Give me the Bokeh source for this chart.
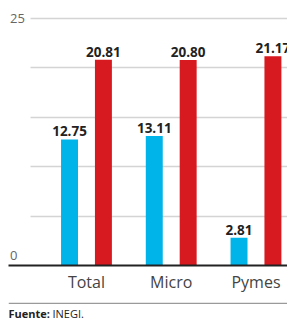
import numpy as np
from bokeh.plotting import figure
from bokeh.layouts import column
from bokeh.models import ColumnDataSource, Range1d, FixedTicker, Span
from bokeh.transform import dodge
from bokeh.core.properties import value
from bokeh.embed import file_html
from bokeh.resources import INLINE

categories = ["Total", "Micro", "Pymes"]
serie_azul = [12.75, 13.11, 2.81]
serie_roja = [20.81, 20.80, 21.17]
y_tick_values = [0, 25]
y_tick_labels = ["0", "25"]
grid_values = [5, 10, 15, 20, 25]
fuente_bold = "Fuente:"
fuente_text = "INEGI."

AZUL = "#00b3e8"
ROJA = "#d71920"
FONT = "Open Sans"

idx = np.arange(len(categories))
src = ColumnDataSource(dict(
    x=idx,
    azul=serie_azul,
    roja=serie_roja,
    azul_txt=[f"{v:.2f}" for v in serie_azul],
    roja_txt=[f"{v:.2f}" for v in serie_roja],
))

x_start, x_end = -0.92, 2.372
p = figure(width=287, height=302,
           x_range=Range1d(x_start, x_end), y_range=Range1d(0, 26),
           output_backend="svg", toolbar_location=None,
           min_border_left=8, min_border_right=0, min_border_top=8,
           min_border_bottom=37)
p.outline_line_color = None
p.background_fill_color = "white"
p.border_fill_color = "white"
p.xgrid.visible = False
p.yaxis.visible = False
p.ygrid.ticker = FixedTicker(ticks=grid_values)
p.ygrid.grid_line_color = "#d4d4d4"
p.ygrid.grid_line_width = 1.3
grid_left = -0.66
try:
    p.ygrid.cross_bounds = (grid_left, x_end)
except Exception:
    p.ygrid.visible = False
    p.segment(x0=grid_left, x1=x_end, y0=grid_values, y1=grid_values,
              line_color="#d4d4d4", line_width=1.3)

bw = 0.2
p.vbar(x=dodge("x", -0.2), top="azul", width=bw, source=src,
       fill_color=AZUL, line_color=None)
p.vbar(x=dodge("x", 0.2), top="roja", width=bw, source=src,
       fill_color=ROJA, line_color=None)

for col, txt, off in (("azul", "azul_txt", -0.2), ("roja", "roja_txt", 0.2)):
    p.text(x=dodge("x", off), y=col, text=txt, source=src,
           text_align="center", text_baseline="bottom", y_offset=-3,
           text_font=value(FONT), text_font_style="bold",
           text_font_size="13.5px", text_color="#222222")

# y tick labels
p.text(x=[x_start] * len(y_tick_values), y=y_tick_values, text=y_tick_labels,
       x_offset=1.5, y_offset=[-10, 0], text_align="left", text_baseline="middle",
       text_font=value(FONT), text_font_size="13px", text_color="#666666")

xa = p.xaxis[0]
xa.ticker = FixedTicker(ticks=list(idx))
xa.major_label_overrides = {int(i): c for i, c in zip(idx, categories)}
xa.axis_line_color = "#222222"
xa.axis_line_width = 2
xa.major_tick_line_color = None
xa.minor_tick_line_color = None
xa.major_tick_out = 0
xa.major_tick_in = 0
xa.major_label_text_font = FONT
xa.major_label_text_font_size = "16px"
xa.major_label_text_color = "#444444"
xa.major_label_standoff = 5

# footer
f = figure(width=287, height=17, x_range=Range1d(0, 279), y_range=Range1d(0, 17),
           output_backend="svg", toolbar_location=None,
           min_border_left=8, min_border_right=0, min_border_top=0,
           min_border_bottom=0)
f.axis.visible = False
f.grid.visible = False
f.outline_line_color = None
f.border_fill_color = "white"
f.add_layout(Span(location=16.3, dimension="width", line_color="#9a9a9a",
                  line_width=1.5))
f.text(x=[0], y=[6.5], text=[fuente_bold], text_baseline="middle",
       text_font=value(FONT), text_font_style="bold", text_font_size="11px",
       text_color="#222222")
f.text(x=[44], y=[6.5], text=[fuente_text], text_baseline="middle",
       text_font=value(FONT), text_font_size="11px", text_color="#222222")

layout = column(p, f, spacing=0)
open("out.html", "w").write(file_html(layout, INLINE))
